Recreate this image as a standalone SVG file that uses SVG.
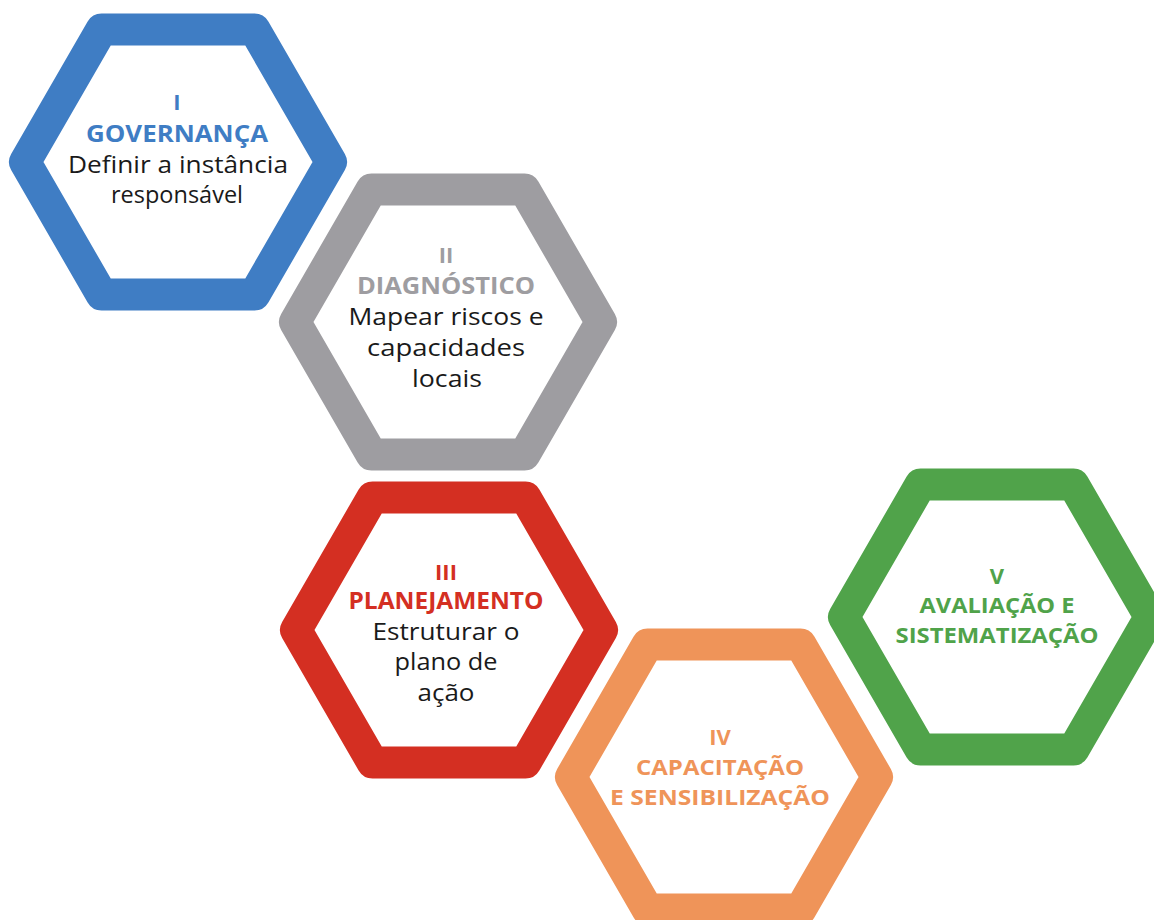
<svg xmlns="http://www.w3.org/2000/svg" width="1154" height="920" viewBox="0 0 1154 920">
  <style>
    .hex { fill: #ffffff; stroke-width: 32; stroke-linejoin: round; }
    .num { font-family: "Open Sans", "Liberation Sans", sans-serif; font-weight: 700; font-size: 22px; text-anchor: middle; }
    .ttl { font-family: "Open Sans", "Liberation Sans", sans-serif; font-weight: 700; font-size: 23px; text-anchor: middle; }
    .ttl2 { font-family: "Open Sans", "Liberation Sans", sans-serif; font-weight: 700; font-size: 21px; text-anchor: middle; }
    .body { font-family: "Open Sans", "Liberation Sans", sans-serif; font-weight: 400; font-size: 24px; fill: #1a1a1a; text-anchor: middle; }
    .blue { stroke: #3f7dc4; } .tblue { fill: #3f7dc4; }
    .gray { stroke: #9e9da1; } .tgray { fill: #9e9da1; }
    .red { stroke: #d42f22; } .tred { fill: #d42f22; }
    .orange { stroke: #ef9459; } .torange { fill: #ef9459; }
    .green { stroke: #50a34a; } .tgreen { fill: #50a34a; }
  </style>
  <defs>
    <path id="hexshape" d="M -153 0 L -76.5 -132.5 L 76.5 -132.5 L 153 0 L 76.5 132.5 L -76.5 132.5 Z"/>
  </defs>
  <rect width="1154" height="920" fill="#ffffff"/>
  <g id="connectors"></g>

  <g id="node-governanca">
    <use href="#hexshape" class="hex blue" transform="translate(178,162)"/>
    <text class="num tblue" x="177" y="110">I</text>
    <text class="ttl tblue" x="177" y="142" textLength="182" lengthAdjust="spacingAndGlyphs">GOVERNANÇA</text>
    <text class="body" x="178" y="173" textLength="220" lengthAdjust="spacingAndGlyphs">Definir a instância</text>
    <text class="body" x="177" y="203" textLength="132" lengthAdjust="spacingAndGlyphs">responsável</text>
  </g>

  <g id="node-diagnostico">
    <use href="#hexshape" class="hex gray" transform="translate(448,322)"/>
    <text class="num tgray" x="446" y="263">II</text>
    <text class="ttl tgray" x="446" y="294" textLength="178" lengthAdjust="spacingAndGlyphs">DIAGNÓSTICO</text>
    <text class="body" x="446" y="325" textLength="195" lengthAdjust="spacingAndGlyphs">Mapear riscos e</text>
    <text class="body" x="446" y="356" textLength="158" lengthAdjust="spacingAndGlyphs">capacidades</text>
    <text class="body" x="447" y="387" textLength="70" lengthAdjust="spacingAndGlyphs">locais</text>
  </g>

  <g id="node-planejamento">
    <use href="#hexshape" class="hex red" transform="translate(449,630)"/>
    <text class="num tred" x="446" y="580">III</text>
    <text class="ttl tred" x="446" y="609" textLength="195" lengthAdjust="spacingAndGlyphs">PLANEJAMENTO</text>
    <text class="body" x="446" y="640" textLength="147" lengthAdjust="spacingAndGlyphs">Estruturar o</text>
    <text class="body" x="446" y="670" textLength="103" lengthAdjust="spacingAndGlyphs">plano de</text>
    <text class="body" x="446" y="701" textLength="57" lengthAdjust="spacingAndGlyphs">ação</text>
  </g>

  <g id="node-capacitacao">
    <use href="#hexshape" class="hex orange" transform="translate(724,777)"/>
    <text class="num torange" x="720" y="745">IV</text>
    <text class="ttl2 torange" x="720" y="775" textLength="168" lengthAdjust="spacingAndGlyphs">CAPACITAÇÃO</text>
    <text class="ttl2 torange" x="720" y="805" textLength="220" lengthAdjust="spacingAndGlyphs">E SENSIBILIZAÇÃO</text>
  </g>

  <g id="node-avaliacao">
    <use href="#hexshape" class="hex green" transform="translate(997,617)"/>
    <text class="num tgreen" x="997" y="584">V</text>
    <text class="ttl2 tgreen" x="997" y="613" textLength="155" lengthAdjust="spacingAndGlyphs">AVALIAÇÃO E</text>
    <text class="ttl2 tgreen" x="997" y="643" textLength="203" lengthAdjust="spacingAndGlyphs">SISTEMATIZAÇÃO</text>
  </g>
</svg>
